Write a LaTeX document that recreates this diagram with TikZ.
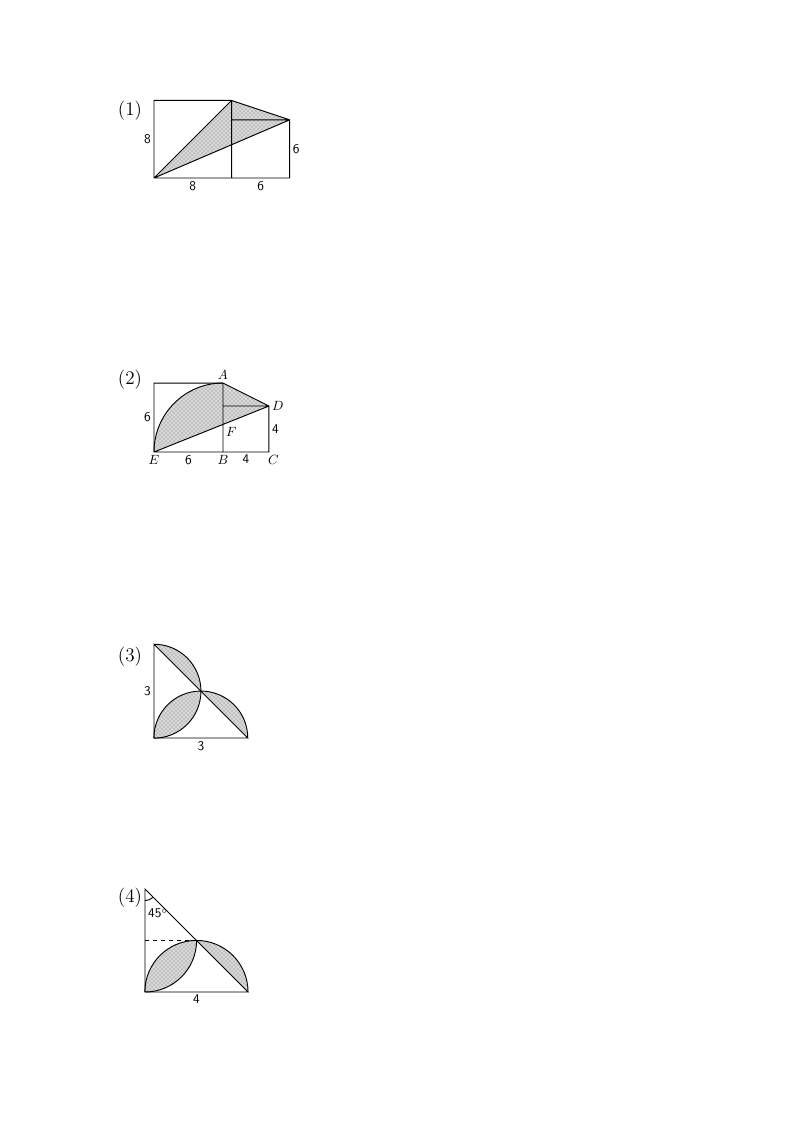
\documentclass[tikz,border=0pt]{standalone}
\usepackage{tikz}
\usetikzlibrary{calc, patterns}

\tikzset{
  shade/.style={fill=gray!30, postaction={pattern=crosshatch dots, pattern color=black!55}},
  num/.style={font=\sffamily, inner sep=2pt},
  pnt/.style={font=\normalsize, inner sep=2pt},
  tag/.style={font=\Large, inner sep=0pt}
}

\begin{document}
\begin{tikzpicture}[x=0.75pt, y=0.75pt, line width=0.7pt]
\useasboundingbox (0,0) rectangle (794,-1123);

% figure (1)
\begin{scope}[shift={(154,-178)}, scale=9.7]
  \coordinate (O1) at (0,0);
  \coordinate (B1) at (8,0);
  \coordinate (C1) at (14,0);
  \coordinate (D1) at (14,6);
  \coordinate (A1) at (8,8);
  \coordinate (S1) at (0,8);
  \coordinate (M1) at (8,6);
  \fill[shade] (O1) -- (A1) -- (D1) -- cycle;
  \draw
    (O1) -- (C1) -- (D1) -- (A1) -- (S1) -- cycle
    (B1) -- (A1)
    (M1) -- (D1)
    (O1) -- (A1)
    (O1) -- (D1);
  \draw
    ($(O1)!0.5!(S1)$) node[num, left] {8}
    ($(O1)!0.5!(B1)$) node[num, below] {8}
    ($(B1)!0.5!(C1)$) node[num, below] {6}
    ($(C1)!0.5!(D1)$) node[num, right] {6};
\end{scope}
\node[tag] (t1) at (130,-111) {(1)};

% figure (2)
\begin{scope}[shift={(154,-452)}, scale=11.5]
  \coordinate (E2) at (0,0);
  \coordinate (B2) at (6,0);
  \coordinate (C2) at (10,0);
  \coordinate (D2) at (10,4);
  \coordinate (A2) at (6,6);
  \coordinate (S2) at (0,6);
  \coordinate (M2) at (6,4);
  \coordinate (F2) at (6,2.4);
  \fill[shade] (E2) arc[start angle=180, end angle=90, radius=6] -- (D2) -- cycle;
  \draw
    (E2) -- (C2) -- (D2) -- (A2) -- (S2) -- cycle
    (B2) -- (A2)
    (M2) -- (D2)
    (E2) -- (D2);
  \draw (E2) arc[start angle=180, end angle=90, radius=6];
  \draw
    (A2) node[pnt, above] {$A$}
    (D2) node[pnt, right] {$D$}
    (F2) node[pnt, below right] {$F$}
    (E2) node[pnt, below] {$E$}
    (B2) node[pnt, below] {$B$}
    (C2) node[pnt, below right, xshift=-3pt] {$C$}
    ($(E2)!0.5!(S2)$) node[num, left] {6}
    ($(E2)!0.5!(B2)$) node[num, below] {6}
    ($(B2)!0.5!(C2)$) node[num, below] {4}
    ($(C2)!0.5!(D2)$) node[num, right] {4};
\end{scope}
\node[tag] (t2) at (130,-380) {(2)};

% figure (3)
\begin{scope}[shift={(154,-738)}, scale=31.3]
  \coordinate (O3) at (0,0);
  \coordinate (R3) at (3,0);
  \coordinate (T3) at (0,3);
  \coordinate (M3) at (1.5,1.5);
  \fill[shade] (T3) arc[start angle=90, end angle=0, radius=1.5] -- cycle;
  \fill[shade] (O3) arc[start angle=-90, end angle=0, radius=1.5]
    arc[start angle=90, end angle=180, radius=1.5] -- cycle;
  \fill[shade] (M3) arc[start angle=90, end angle=0, radius=1.5] -- cycle;
  \draw (T3) -- (O3) -- (R3) -- cycle;
  \draw (T3) arc[start angle=90, end angle=-90, radius=1.5];
  \draw (R3) arc[start angle=0, end angle=180, radius=1.5];
  \draw
    ($(O3)!0.5!(T3)$) node[num, left] {3}
    ($(O3)!0.5!(R3)$) node[num, below] {3};
\end{scope}
\node[tag] (t3) at (130,-657) {(3)};

% figure (4)
\begin{scope}[shift={(145,-992)}, scale=25.8]
  \coordinate (O4) at (0,0);
  \coordinate (R4) at (4,0);
  \coordinate (T4) at (0,4);
  \coordinate (M4) at (2,2);
  \coordinate (L4) at (0,2);
  \fill[shade] (O4) arc[start angle=-90, end angle=0, radius=2]
    arc[start angle=90, end angle=180, radius=2] -- cycle;
  \fill[shade] (M4) arc[start angle=90, end angle=0, radius=2] -- cycle;
  \draw (T4) -- (O4) -- (R4) -- cycle;
  \draw (R4) arc[start angle=0, end angle=180, radius=2];
  \draw (O4) arc[start angle=-90, end angle=0, radius=2];
  \draw[dashed] (L4) -- (M4);
  \draw ($(T4)+(0,-0.45)$) arc[start angle=-90, end angle=-45, radius=0.45];
  \draw
    ($(T4)+(0.5,-0.95)$) node[num] {45$^\circ$}
    ($(O4)!0.5!(R4)$) node[num, below] {4};
\end{scope}
\node[tag] (t4) at (130,-898) {(4)};
\end{tikzpicture}
\end{document}
